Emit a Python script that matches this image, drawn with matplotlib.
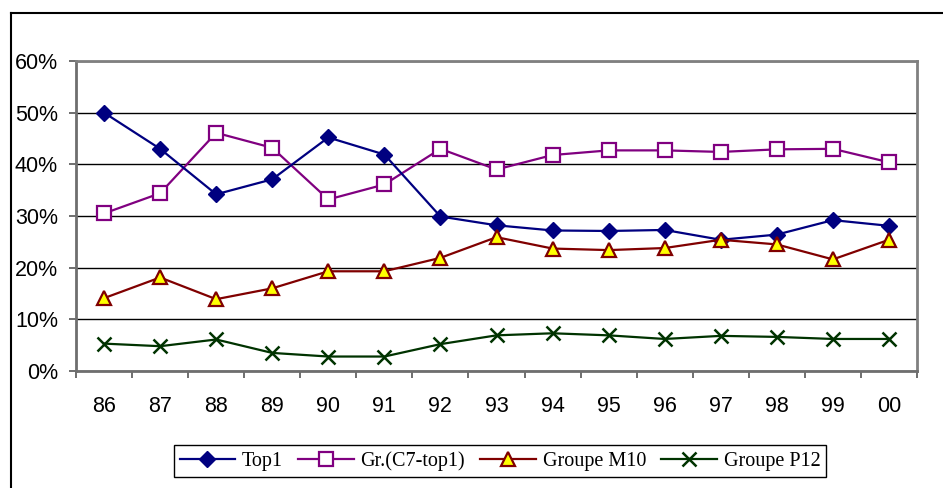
import matplotlib
matplotlib.use("Agg")
import matplotlib.pyplot as plt
from matplotlib.lines import Line2D
from matplotlib.ticker import FuncFormatter, FixedLocator

years = ["86", "87", "88", "89", "90", "91", "92", "93", "94", "95", "96", "97", "98", "99", "00"]
top1 = [50.0, 43.0, 34.2, 37.1, 45.2, 41.9, 29.9, 28.2, 27.2, 27.1, 27.3, 25.4, 26.4, 29.2, 28.1]
gr_c7 = [30.5, 34.4, 46.1, 43.2, 33.2, 36.1, 43.0, 39.0, 41.8, 42.7, 42.7, 42.4, 42.9, 43.0, 40.4]
groupe_m10 = [14.1, 18.1, 13.9, 16.0, 19.3, 19.3, 21.9, 25.9, 23.7, 23.4, 23.8, 25.4, 24.5, 21.6, 25.4]
groupe_p12 = [5.3, 4.8, 6.1, 3.5, 2.8, 2.8, 5.2, 6.9, 7.3, 6.9, 6.2, 6.8, 6.6, 6.2, 6.2]

fig = plt.figure(figsize=(9.43, 4.88), dpi=100)
ax = fig.add_axes([76 / 943, 1 - 371 / 488, (917 - 76) / 943, (371 - 61) / 488])

x = list(range(len(years)))
ax.plot(x, [v / 100 for v in top1], color="#000080", lw=1.6, marker="D",
        ms=8.5, mfc="#000080", mec="#000080", label="Top1", zorder=4)
ax.plot(x, [v / 100 for v in gr_c7], color="#800080", lw=1.6, marker="s",
        ms=10, mfc="white", mec="#800080", mew=1.6, label="Gr.(C7-top1)", zorder=3)
ax.plot(x, [v / 100 for v in groupe_m10], color="#800000", lw=1.6, marker="^",
        ms=10, mfc="#FFFF00", mec="#800000", mew=1.6, label="Groupe M10", zorder=4)
ax.plot(x, [v / 100 for v in groupe_p12], color="#003300", lw=1.6, marker="x",
        ms=10, mec="#003300", mew=1.8, label="Groupe P12", zorder=4)

ax.set_xlim(-0.5, len(years) - 0.5)
ax.set_ylim(0, 0.6)
ax.set_yticks([i / 10 for i in range(7)])
ax.yaxis.set_major_formatter(FuncFormatter(lambda v, p: f"{v * 100:.0f}%"))
ax.set_xticks(x)
ax.set_xticklabels(years)
ax.xaxis.set_minor_locator(FixedLocator([i - 0.5 for i in range(len(years) + 1)]))

ax.grid(axis="y", color="black", lw=1)
ax.set_axisbelow(True)
for side in ["top", "right", "left", "bottom"]:
    ax.spines[side].set_color("#808080")
    ax.spines[side].set_linewidth(2)
ax.spines["left"].set_color("#6e6e6e")
ax.spines["bottom"].set_color("#6e6e6e")

font = "Liberation Sans"
ax.tick_params(axis="x", which="major", length=0, pad=18, labelsize=15.5)
ax.tick_params(axis="x", which="minor", length=5, width=1.2, color="#555555")
ax.tick_params(axis="y", length=5, width=1.2, color="#555555", pad=8, labelsize=15.5)
for lbl in ax.get_xticklabels() + ax.get_yticklabels():
    lbl.set_fontfamily(font)

leg = fig.legend(loc="center", bbox_to_anchor=(500 / 943, 1 - 461 / 488), ncol=4,
                 frameon=True, fancybox=False, edgecolor="black", framealpha=1,
                 prop={"family": "Liberation Serif", "size": 14.5},
                 handlelength=2.75, columnspacing=0.75, handletextpad=0.35,
                 borderpad=0.3, borderaxespad=0)
leg.get_frame().set_linewidth(1)

# outer chart border
fig.add_artist(Line2D([10.5 / 943, 10.5 / 943], [0, 1 - 13 / 488], color="black", lw=1.5))
fig.add_artist(Line2D([10.5 / 943, 1], [1 - 13 / 488, 1 - 13 / 488], color="black", lw=1.5))

fig.savefig("out.png", dpi=100)
